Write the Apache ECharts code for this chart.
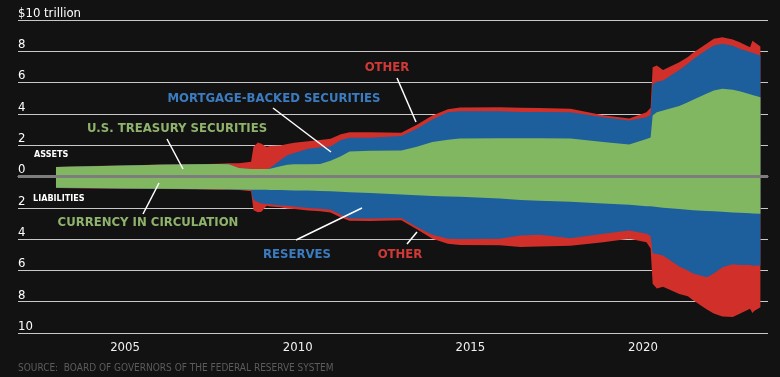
<!DOCTYPE html>
<html>
<head>
<meta charset="utf-8">
<script src="https://cdn.jsdelivr.net/npm/echarts@6/dist/echarts.min.js"></script>
<style>
  html, body { margin: 0; padding: 0; background: #121212; }
  #chart { width: 780px; height: 377px; }
</style>
</head>
<body>
<div id="chart"></div>
<script>
  // time points (decimal years)
  var years = [2003.0, 2004.0, 2005.0, 2006.0, 2007.0, 2007.7, 2008.0, 2008.3, 2008.65, 2008.72,
    2008.85, 2008.95, 2009.1, 2009.2, 2009.5, 2009.7, 2009.9, 2010.3, 2010.65, 2010.95,
    2011.25, 2011.5, 2012.1, 2013.0, 2013.45, 2013.9, 2014.35, 2014.7, 2015.85, 2016.45,
    2017.0, 2017.9, 2018.85, 2019.6, 2020.1, 2020.22, 2020.28, 2020.4, 2020.58, 2021.05,
    2021.3, 2021.45, 2021.85, 2022.05, 2022.3, 2022.6, 2022.8, 2023.1, 2023.17, 2023.22, 2023.4]

  // assets, $ trillion
  var treasury = [0.60, 0.66, 0.70, 0.75, 0.78, 0.80, 0.78, 0.55, 0.48, 0.48,
    0.48, 0.48, 0.48, 0.50, 0.65, 0.75, 0.78, 0.78, 0.80, 1.00,
    1.30, 1.60, 1.65, 1.66, 1.90, 2.20, 2.35, 2.43, 2.45, 2.45,
    2.45, 2.43, 2.20, 2.04, 2.40, 2.50, 3.90, 4.10, 4.22, 4.50,
    4.75, 4.90, 5.30, 5.50, 5.60, 5.55, 5.45, 5.25, 5.20, 5.15, 5.07]
  var mbs = [0, 0, 0, 0, 0, 0, 0, 0, 0, 0,
    0, 0, 0, 0.05, 0.40, 0.60, 0.72, 1.00, 1.07, 0.92,
    1.04, 0.87, 0.83, 0.92, 1.15, 1.44, 1.75, 1.74, 1.72, 1.67,
    1.67, 1.67, 1.59, 1.54, 1.39, 1.45, 2.00, 1.95, 1.91, 2.30,
    2.45, 2.60, 2.80, 2.87, 2.88, 2.80, 2.71, 2.70, 2.70, 2.70, 2.66]
  var otherAssets = [0.01, 0.01, 0.01, 0.01, 0.01, 0.02, 0.07, 0.29, 0.47, 1.42,
    1.69, 1.62, 1.40, 1.40, 0.93, 0.73, 0.65, 0.48, 0.47, 0.50,
    0.36, 0.36, 0.35, 0.22, 0.25, 0.26, 0.20, 0.24, 0.25, 0.27,
    0.26, 0.23, 0.13, 0.12, 0.32, 0.45, 1.08, 1.04, 0.68, 0.50,
    0.43, 0.40, 0.40, 0.43, 0.42, 0.40, 0.42, 0.31, 0.78, 0.75, 0.57]

  // liabilities, $ trillion
  var currency = [0.72, 0.74, 0.76, 0.78, 0.80, 0.81, 0.82, 0.83, 0.84, 0.85,
    0.85, 0.85, 0.85, 0.86, 0.87, 0.88, 0.89, 0.90, 0.92, 0.95,
    0.98, 1.00, 1.06, 1.15, 1.20, 1.24, 1.27, 1.30, 1.40, 1.50,
    1.55, 1.62, 1.72, 1.80, 1.90, 1.90, 1.92, 1.95, 2.00, 2.08,
    2.12, 2.15, 2.20, 2.22, 2.26, 2.30, 2.32, 2.35, 2.36, 2.36, 2.38]
  var reserves = [0.01, 0.01, 0.01, 0.01, 0.01, 0.01, 0.01, 0.01, 0.02, 0.65,
    0.80, 0.87, 0.90, 0.92, 0.98, 0.99, 1.03, 1.12, 1.14, 1.17,
    1.47, 1.68, 1.62, 1.50, 2.02, 2.48, 2.71, 2.69, 2.58, 2.27,
    2.17, 2.33, 1.94, 1.65, 1.76, 1.90, 2.98, 3.00, 3.05, 3.67,
    3.88, 4.05, 4.23, 3.98, 3.54, 3.30, 3.33, 3.30, 3.34, 3.36, 3.31]
  var otherLiab = [0.01, 0.01, 0.01, 0.01, 0.01, 0.02, 0.02, 0.03, 0.09, 0.65,
    0.63, 0.53, 0.12, 0.14, 0.12, 0.17, 0.16, 0.15, 0.16, 0.18,
    0.17, 0.15, 0.17, 0.15, 0.15, 0.25, 0.32, 0.38, 0.42, 0.73,
    0.76, 0.48, 0.54, 0.53, 0.54, 0.80, 1.96, 2.20, 2.00, 1.75,
    1.65, 1.70, 2.07, 2.55, 3.15, 3.38, 3.12, 2.80, 3.03, 2.88, 2.66]

  var tickYears = [2003, 2004, 2005, 2006, 2007, 2008, 2009, 2010, 2011, 2012, 2013,
    2014, 2015, 2016, 2017, 2018, 2019, 2020, 2021, 2022, 2023]
  var labelYears = [2005, 2010, 2015, 2020]

  var GREEN = '#82b762'
  var BLUE = '#1d5e9c'
  var RED = '#d12f2a'
  var FONT = "'DejaVu Sans Condensed', 'DejaVu Sans', sans-serif"

  // running total of the layers below (and including) each one
  function cumulative(layers, sign) {
    return years.map(function (y, i) {
      var s = 0
      layers.forEach(function (arr) { s += arr[i] })
      return [y, sign * s]
    })
  }

  // opaque areas from zero; the outer layer is drawn first, inner ones on top
  function area(name, data, color, z) {
    return {
      name: name,
      type: 'line',
      data: data,
      z: z,
      symbol: 'none',
      showSymbol: false,
      lineStyle: { width: 0 },
      itemStyle: { color: color },
      areaStyle: { color: color, opacity: 1, origin: 0 },
      silent: true
    }
  }

  function label(text, x, y, color) {
    return {
      type: 'text', x: x, y: y, z: 20,
      style: { text: text, fill: color, font: 'bold 13px ' + FONT, textAlign: 'center', textVerticalAlign: 'middle' }
    }
  }

  function leader(x1, y1, x2, y2) {
    return {
      type: 'line', z: 20,
      shape: { x1: x1, y1: y1, x2: x2, y2: y2 },
      style: { stroke: '#ffffff', lineWidth: 1.5 }
    }
  }

  var chart = echarts.init(document.getElementById('chart'))
  var option = {
    backgroundColor: '#121212',
    animation: false,
    grid: { left: 18, right: 12, top: 20, bottom: 44 },
    xAxis: {
      type: 'value',
      min: 2001.9,
      max: 2023.62,
      splitLine: { show: false },
      axisLine: { show: true, lineStyle: { color: '#c8c8c8', width: 1 } },
      axisTick: { show: true, customValues: tickYears, length: 5, lineStyle: { color: '#c8c8c8' } },
      axisLabel: {
        customValues: labelYears, color: '#f0f0f0', fontSize: 13, fontFamily: FONT, margin: 8,
        formatter: function (v) { return String(v) }
      }
    },
    yAxis: {
      type: 'value',
      min: -10,
      max: 10,
      interval: 2,
      axisLine: { show: false },
      axisTick: { show: false },
      splitLine: { lineStyle: { color: '#c8c8c8', width: 1 } },
      axisLabel: {
        inside: true,
        margin: 0,
        align: 'left',
        verticalAlign: 'bottom',
        lineHeight: 13,
        padding: [0, 0, 0, 0],
        color: '#ffffff',
        fontSize: 13,
        fontFamily: FONT,
        formatter: function (v) { return v === 10 ? '$10 trillion' : String(Math.abs(v)) }
      }
    },
    series: [
      area('Other assets', cumulative([treasury, mbs, otherAssets], 1), RED, 2),
      area('Mortgage-backed securities', cumulative([treasury, mbs], 1), BLUE, 3),
      area('U.S. Treasury securities', cumulative([treasury], 1), GREEN, 4),
      area('Other liabilities', cumulative([currency, reserves, otherLiab], -1), RED, 2),
      area('Reserves', cumulative([currency, reserves], -1), BLUE, 3),
      area('Currency in circulation', cumulative([currency], -1), GREEN, 4),
      {
        type: 'line', data: [], z: 10, silent: true,
        markLine: {
          silent: true, symbol: 'none', label: { show: false },
          lineStyle: { color: '#7d7d7d', width: 3, type: 'solid' },
          data: [{ yAxis: 0 }]
        }
      }
    ],
    graphic: [
      { type: 'text', x: 34, y: 155, z: 20, style: { text: 'ASSETS', fill: '#fff', font: 'bold 9px ' + FONT, textVerticalAlign: 'middle' } },
      { type: 'text', x: 33, y: 199, z: 20, style: { text: 'LIABILITIES', fill: '#fff', font: 'bold 9px ' + FONT, textVerticalAlign: 'middle' } },
      label('OTHER', 387, 68, '#cf3a38'),
      label('MORTGAGE-BACKED SECURITIES', 274, 99, '#3b7cc0'),
      label('U.S. TREASURY SECURITIES', 177, 129, '#8fb36c'),
      label('CURRENCY IN CIRCULATION', 148, 223, '#8fb36c'),
      label('RESERVES', 297, 255, '#3b7cc0'),
      label('OTHER', 400, 255, '#cf3a38'),
      leader(397, 78, 416, 122),
      leader(273, 108, 331, 152),
      leader(167, 139, 183, 169),
      leader(159, 183, 143, 214),
      leader(296, 240, 362, 208),
      leader(407, 244, 417, 232),
      {
        type: 'text', x: 18, y: 368, z: 20,
        style: { text: 'SOURCE:  BOARD OF GOVERNORS OF THE FEDERAL RESERVE SYSTEM', fill: '#5c5c5c', font: '10px ' + FONT, textVerticalAlign: 'middle' }
      }
    ]
  }
  chart.setOption(option)
</script>
</body>
</html>
